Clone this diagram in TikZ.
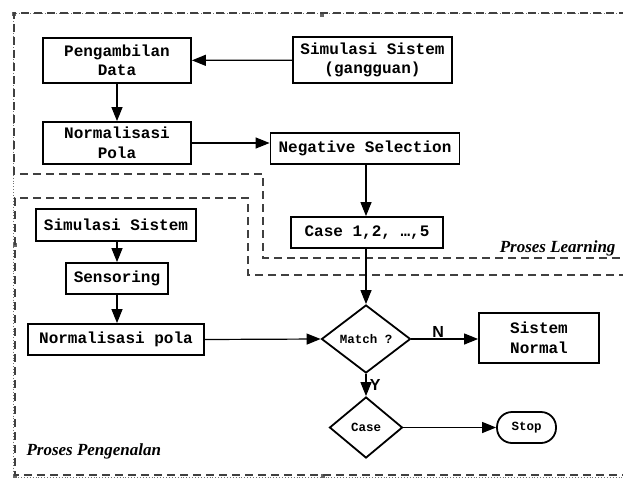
\documentclass[tikz,border=0pt]{standalone}
\usepackage{fontspec}
\setmonofont{Liberation Mono}
\newfontfamily\labelfont{Liberation Sans}
\newfontfamily\regionfont{Liberation Serif}
\usetikzlibrary{shapes.geometric,arrows.meta}
\begin{document}
\begin{tikzpicture}[x=1pt,y=-1pt,
  box/.style={draw,line width=1.8pt,inner sep=2pt,align=center,
    font=\ttfamily\bfseries\fontsize{16}{19.5}\selectfont},
  dia/.style={draw,diamond,line width=1.8pt,inner sep=0pt,aspect=1.3,
    font=\ttfamily\bfseries\fontsize{12.5}{15}\selectfont},
  conn/.style={line width=1.2pt,-{Triangle[length=14pt,width=11pt]}},
  region/.style={line width=1.2pt,dash pattern=on 8pt off 5pt,black!75},
  handle/.style={fill=black!60,draw=none},
  rlabel/.style={font=\regionfont\bfseries\itshape\fontsize{17}{20}\selectfont},
  yn/.style={font=\labelfont\bfseries\fontsize{16}{19}\selectfont}]
\useasboundingbox (0,0) rectangle (623,479);
\clip (0,0) rectangle (623,479);
% outer frame
\draw[black!55,line width=0.9pt,dotted] (640,13) -- (13,13) -- (13,477) -- (640,477);
\fill[handle] (12,12) rectangle (16,16);
\fill[handle] (320,13) rectangle (324,17);
\fill[handle] (13,243) rectangle (17,247);
\fill[handle] (13,474) rectangle (17,478);
\fill[handle] (321,474) rectangle (325,478);
% regions
\draw[region] (640,13) -- (14,13) -- (14,174) -- (263,174) -- (263,258) -- (640,258);
\draw[region] (640,275) -- (248,275) -- (248,198) -- (15,198) -- (15,475) -- (640,475);
\node[rlabel,anchor=east] (lbllearn) at (619,248) {Proses Learning};
\node[rlabel,anchor=west] (lblpeng) at (23,451) {Proses Pengenalan};
% nodes
\node[box,minimum width=148pt,minimum height=45pt] (ambil) at (117,60.5) {Pengambilan\\Data};
\node[box,minimum width=159pt,minimum height=46pt] (simg) at (372.5,60) {Simulasi Sistem\\(gangguan)};
\node[box,minimum width=148pt,minimum height=42pt] (norm1) at (117,143) {Normalisasi\\Pola};
\node[box,minimum width=189pt,minimum height=31pt] (neg) at (365,148.5) {Negative Selection};
\node[box,minimum width=152pt,minimum height=31pt] (case5) at (367,232.5) {Case 1,2, …,5};
\node[box,minimum width=160pt,minimum height=32pt] (sim2) at (116,225) {Simulasi Sistem};
\node[box,minimum width=102pt,minimum height=31pt] (sens) at (117,278.5) {Sensoring};
\node[box,minimum width=176pt,minimum height=31pt] (norm2) at (116,339.5) {Normalisasi pola};
\node[dia,minimum width=89pt,minimum height=68pt] (match) at (366,339) {Match ?};
\node[box,minimum width=120pt,minimum height=50pt] (normal) at (539,338) {Sistem\\Normal};
\node[dia,minimum width=73pt,minimum height=61pt] (casedia) at (366,427.5) {Case};
\node[box,rounded corners=15pt,minimum width=59pt,minimum height=31pt,
  font=\ttfamily\bfseries\fontsize{12.5}{15}\selectfont] (stop) at (526.5,427.5) {Stop};
% connectors
\draw[conn] (simg) -- (ambil);
\draw[conn] (ambil) -- (norm1);
\draw[conn] (norm1.east) -- (neg.west |- norm1.east);
\draw[conn] (neg.south -| match.north) -- (case5.north -| match.north);
\draw[conn] (case5.south -| match.north) -- (match.north);
\draw[conn] (sim2.south -| sens.north) -- (sens.north);
\draw[conn] (sens.south) -- (norm2.north -| sens.south);
\draw[conn] (norm2.east) -- (match.west);
\draw[conn] (match.east) -- (normal.west |- match.east) node[yn,pos=0.4,above=-2pt] (nlab) {N};
\draw[conn] (match.south) -- (casedia.north) node[yn,midway,right=0pt] (ylab) {Y};
\draw[conn] (casedia.east) -- (stop.west);
\end{tikzpicture}
\end{document}
